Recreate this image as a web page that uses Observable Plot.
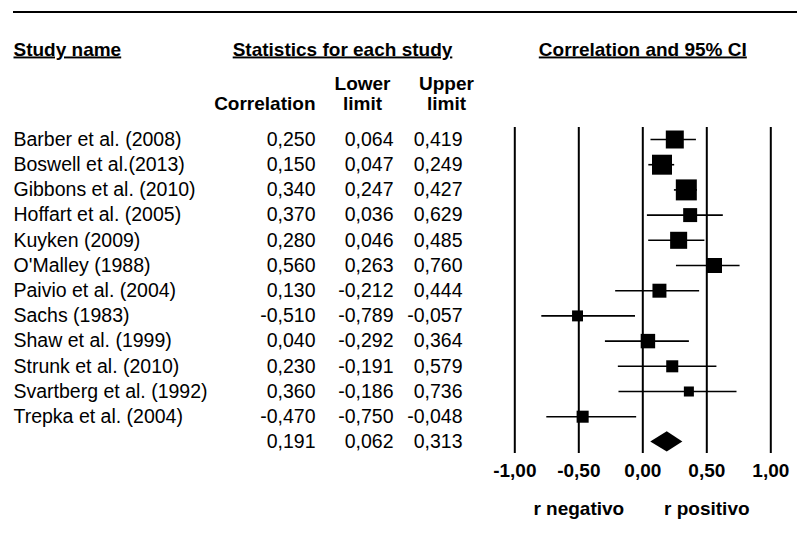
<!DOCTYPE html>
<html><head><meta charset="utf-8">
<script src="https://cdn.jsdelivr.net/npm/d3@7"></script>
<script src="https://cdn.jsdelivr.net/npm/@observablehq/plot@0.6"></script>
<style>
html,body{margin:0;padding:0;background:#fff;}
#wrap{position:relative;width:797px;height:536px;}
#toprule{position:absolute;left:13px;right:0;top:10.5px;height:2px;background:#000;z-index:2;}
</style></head><body>
<div id="wrap"></div>
<script>
const studies = ["Barber et al. (2008)", "Boswell et al.(2013)", "Gibbons et al. (2010)", "Hoffart et al. (2005)", "Kuyken (2009)", "O'Malley (1988)", "Paivio et al. (2004)", "Sachs (1983)", "Shaw et al. (1999)", "Strunk et al. (2010)", "Svartberg et al. (1992)", "Trepka et al. (2004)"];
const correlation = [0.250, 0.150, 0.340, 0.370, 0.280, 0.560, 0.130, -0.510, 0.040, 0.230, 0.360, -0.470];
const lowerLimit = [0.064, 0.047, 0.247, 0.036, 0.046, 0.263, -0.212, -0.789, -0.292, -0.191, -0.186, -0.750];
const upperLimit = [0.419, 0.249, 0.427, 0.629, 0.485, 0.760, 0.444, -0.057, 0.364, 0.579, 0.736, -0.048];
const weight = [11.6, 14.3, 15.8, 7.0, 10.4, 8.1, 7.0, 4.3, 7.5, 5.2, 3.6, 5.2];
const summaryValues = [0.191, 0.062, 0.313];
const axisTicks = [-1, -0.5, 0, 0.5, 1];
const groupHeaders = ["Study name", "Statistics for each study", "Correlation and 95% CI"];
const columnHeaders = ["Correlation", "Lower\nlimit", "Upper\nlimit"];
const sideLabels = ["r negativo", "r positivo"];

const FONT = "'Liberation Sans', Arial, Helvetica, sans-serif";
const fmt3 = v => v.toFixed(3).replace(".", ",");
const fmt2 = v => v.toFixed(2).replace(".", ",");

const rows = studies.map((name, i) => ({name, r: correlation[i], lo: lowerLimit[i], hi: upperLimit[i], w: weight[i], row: i}));
const sRow = studies.length;
const summary = {name: "", r: summaryValues[0], lo: summaryValues[1], hi: summaryValues[2], row: sRow};
const allRows = [...rows, summary];
const diamond = [
  {y: sRow - 0.4, x1: summary.r, x2: summary.r},
  {y: sRow, x1: summary.lo, x2: summary.hi},
  {y: sRow + 0.4, x1: summary.r, x2: summary.r}
];
const xMid = d3.mean(axisTicks);

const plot = Plot.plot({
  width: 797, height: 536,
  marginTop: 127, marginBottom: 83, marginLeft: 0, marginRight: 0,
  x: {domain: [-1, 1], range: [514.3, 770.3]},
  y: {domain: [0, sRow], range: [139, 441.4], axis: null},
  r: {type: "sqrt", domain: [0, 16], range: [0, 11.92]},
  style: {fontFamily: FONT, fontSize: "19.5px", color: "#000", background: "#fff", overflow: "visible"},
  marks: [
    // group headers (underlined)
    Plot.text([groupHeaders[0]], {frameAnchor: "top-left", dx: 13, dy: -72, textAnchor: "start", lineAnchor: "bottom", fontWeight: "bold", fontSize: 19}),
    Plot.text([groupHeaders[1]], {frameAnchor: "top-left", dx: 342, dy: -72, textAnchor: "middle", lineAnchor: "bottom", fontWeight: "bold", fontSize: 19}),
    Plot.text([groupHeaders[2]], {x: () => xMid, frameAnchor: "top", dy: -72, textAnchor: "middle", lineAnchor: "bottom", fontWeight: "bold", fontSize: 19}),
    // column headers
    Plot.text([columnHeaders[0]], {frameAnchor: "top-left", dx: 315, dy: -18, textAnchor: "end", lineAnchor: "bottom", fontWeight: "bold", fontSize: 19}),
    Plot.text([columnHeaders[1]], {frameAnchor: "top-left", dx: 362, dy: -18, textAnchor: "middle", lineAnchor: "bottom", lineHeight: 1.05, fontWeight: "bold", fontSize: 19}),
    Plot.text([columnHeaders[2]], {frameAnchor: "top-left", dx: 446, dy: -18, textAnchor: "middle", lineAnchor: "bottom", lineHeight: 1.05, fontWeight: "bold", fontSize: 19}),
    // table body
    Plot.text(rows, {y: "row", text: "name", frameAnchor: "left", dx: 13, textAnchor: "start"}),
    Plot.text(allRows, {y: "row", text: d => fmt3(d.r), frameAnchor: "left", dx: 315, textAnchor: "end"}),
    Plot.text(allRows, {y: "row", text: d => fmt3(d.lo), frameAnchor: "left", dx: 393, textAnchor: "end"}),
    Plot.text(allRows, {y: "row", text: d => fmt3(d.hi), frameAnchor: "left", dx: 462, textAnchor: "end"}),
    // reference lines
    Plot.ruleX(axisTicks, {stroke: "#000", strokeWidth: 2}),
    // CI lines
    Plot.ruleY(rows, {y: "row", x1: "lo", x2: "hi", stroke: "#000", strokeWidth: 1.6}),
    // squares
    Plot.dot(rows, {x: "r", y: "row", r: "w", symbol: "square", fill: "#000", stroke: null}),
    // summary diamond
    Plot.areaX(diamond, {y: "y", x1: "x1", x2: "x2", fill: "#000", curve: "linear"}),
    // axis
    Plot.axisX(axisTicks, {tickSize: 0, tickPadding: 10, tickFormat: fmt2, fontWeight: "bold", fontSize: 19, label: null}),
    // side labels
    Plot.text(sideLabels, {x: (d, i) => [-0.5, 0.5][i], frameAnchor: "bottom", dy: 61, lineAnchor: "bottom", textAnchor: "middle", fontWeight: "bold", fontSize: 19})
  ]
});
const wrap = document.getElementById("wrap");
plot.style.position = "absolute";
plot.style.left = "0";
plot.style.top = "0";
wrap.appendChild(plot);
const rule = document.createElement("div");
rule.id = "toprule";
wrap.appendChild(rule);
d3.select(plot).selectAll("text")
  .filter(function () { return groupHeaders.includes(this.textContent); })
  .style("text-decoration", "underline")
  .style("text-decoration-thickness", "2px");
</script>
</body></html>
